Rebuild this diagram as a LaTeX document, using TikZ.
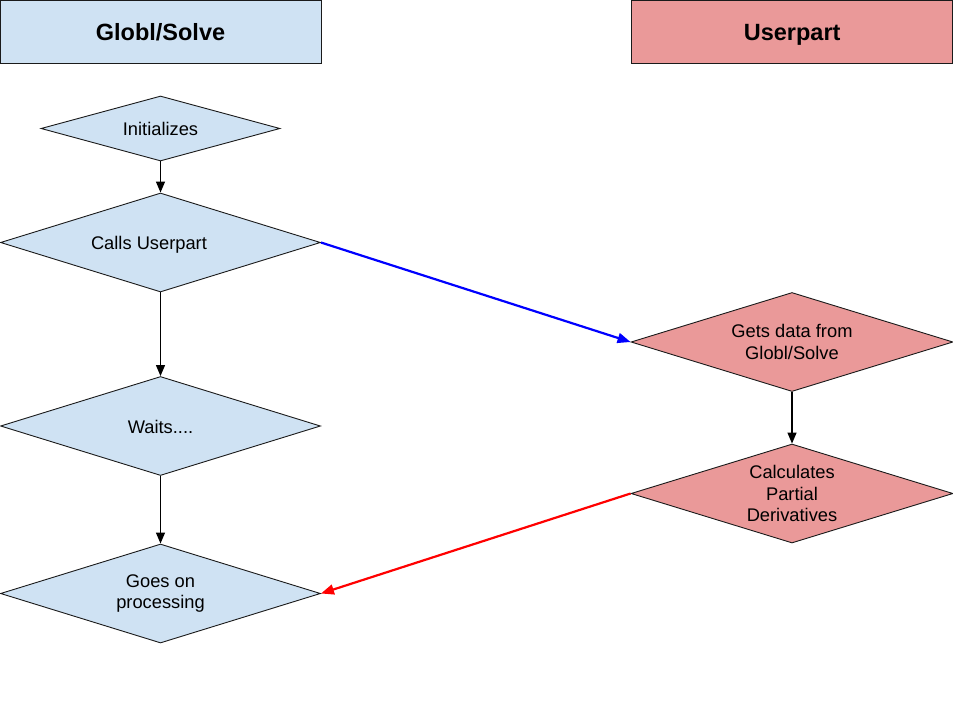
\documentclass[tikz,border=0pt]{standalone}
\usepackage{fontspec}
\setmainfont{Liberation Sans}
\usetikzlibrary{shapes.geometric,arrows.meta}
\definecolor{bluefill}{HTML}{CFE2F3}
\definecolor{redfill}{HTML}{EA9999}
\definecolor{edgecol}{HTML}{1A1A1A}
\definecolor{pureblue}{HTML}{0000FF}
\definecolor{purered}{HTML}{FF0000}
\tikzset{
  header/.style={draw=edgecol, line width=1pt, rectangle, inner sep=0pt,
    minimum width=321pt, minimum height=63pt, text height=21pt, text depth=4pt,
    font=\fontsize{23.5}{28}\selectfont\bfseries},
  dia/.style={draw=edgecol, line width=0.9pt, shape=diamond, inner sep=0pt,
    aspect=3.23, minimum width=320pt, minimum height=99pt, align=center,
    font=\fontsize{18.3}{21.7}\selectfont},
  oneline/.style={text height=17pt, text depth=3pt},
  bluebox/.style={fill=bluefill},
  redbox/.style={fill=redfill},
  flow/.style={line width=1.3pt, -{Triangle[length=11pt,width=9pt]}},
  blueflow/.style={line width=2.2pt, draw=pureblue, -{Triangle[length=13pt,width=10pt]}},
  redflow/.style={line width=2.2pt, draw=purered, -{Triangle[length=13pt,width=10pt]}},
}
\begin{document}
\begin{tikzpicture}[x=1pt,y=-1pt]
\useasboundingbox (0,0) rectangle (953,707);
\node[header,bluebox] (hl) at (160.5,31.5) {Globl/Solve};
\node[header,redbox] (hr) at (792.2,31.5) {Userpart};

\node[dia,oneline,bluebox,aspect=3.68,minimum width=239pt,minimum height=65pt] (init) at (160.5,128.5) {Initializes};
\node[dia,oneline,bluebox] (calls) at (160.5,242.5) {Calls Userpart\hspace*{23pt}};
\node[dia,oneline,bluebox] (waits) at (160.5,426) {Waits....};
\node[dia,bluebox] (goes) at (160.5,593.5) {Goes on\\processing};

\node[dia,redbox,minimum width=322pt] (gets) at (792,342) {Gets data from\\Globl/Solve};
\node[dia,redbox,minimum width=322pt] (calc) at (792,493.5) {Calculates\\Partial\\Derivatives};

\draw[flow] (init.south) -- (calls.north);
\draw[flow] (calls.south) -- (waits.north);
\draw[flow] (waits.south) -- (goes.north);
\draw[flow] (gets.south) -- (calc.north);
\draw[blueflow] (calls.east) -- (gets.west);
\draw[redflow] (calc.west) -- (goes.east);
\end{tikzpicture}
\end{document}
